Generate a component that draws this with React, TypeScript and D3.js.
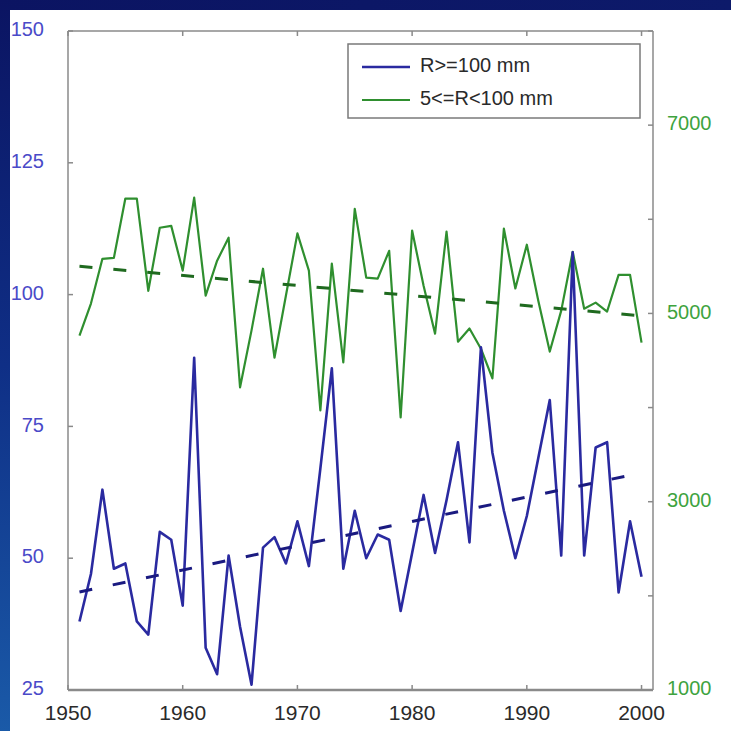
import React from "react";
import * as d3 from "d3";

const years = [
  1951, 1952, 1953, 1954, 1955, 1956, 1957, 1958, 1959, 1960,
  1961, 1962, 1963, 1964, 1965, 1966, 1967, 1968, 1969, 1970,
  1971, 1972, 1973, 1974, 1975, 1976, 1977, 1978, 1979, 1980,
  1981, 1982, 1983, 1984, 1985, 1986, 1987, 1988, 1989, 1990,
  1991, 1992, 1993, 1994, 1995, 1996, 1997, 1998, 1999, 2000,
];

// R >= 100 mm (left axis)
const heavyValues = [
  38, 47, 63, 48, 49, 38, 35.5, 55, 53.5, 41,
  88, 33, 28, 50.5, 37, 26, 52, 54, 49, 57,
  48.5, 67, 86, 48, 59, 50, 54.5, 53.5, 40, 51,
  62, 51, 61, 72, 53, 90, 70, 59, 50, 58,
  69, 80, 50.5, 108, 50.5, 71, 72, 43.5, 57, 46.5,
];

// 5 <= R < 100 mm (right axis)
const moderateValues = [
  4765, 5105, 5580, 5590, 6220, 6220, 5240, 5910, 5930, 5455,
  6230, 5190, 5560, 5805, 4215, 4820, 5475, 4530, 5190, 5850,
  5455, 3970, 5530, 4480, 6110, 5380, 5370, 5665, 3895, 5880,
  5295, 4785, 5870, 4700, 4840, 4625, 4310, 5900, 5265, 5730,
  5135, 4595, 5030, 5655, 5050, 5115, 5020, 5410, 5410, 4690,
];

const trendYears = [1951, 2000];
const heavyTrend = [43.6, 66.2];
const moderateTrend = [5500, 4975];

const xTicks = [1950, 1960, 1970, 1980, 1990, 2000];
const leftTicks = [25, 50, 75, 100, 125, 150];
const rightTicks = [1000, 2000, 3000, 4000, 5000, 6000, 7000, 8000];
const rightTickLabels = [1000, 3000, 5000, 7000];

const legendLabels = ["R>=100 mm", "5<=R<100 mm"];

const W = 731;
const H = 731;
const L = 68;
const R = 653;
const T = 31;
const B = 690;

const BLUE = "#2a2aa0";
const GREEN = "#2f8f2f";
const FONT = "'Liberation Sans', Arial, sans-serif";

export default function App() {
  const x = d3.scaleLinear().domain([1950, 2001]).range([L, R]);
  const yL = d3.scaleLinear().domain([25, 150]).range([B, T]);
  const yR = d3.scaleLinear().domain([1000, 8000]).range([B, T]);

  const heavyLine = d3
    .line<number>()
    .x((_, i) => x(years[i]))
    .y((d) => yL(d));
  const modLine = d3
    .line<number>()
    .x((_, i) => x(years[i]))
    .y((d) => yR(d));
  const heavyTrendLine = d3
    .line<number>()
    .x((_, i) => x(trendYears[i]))
    .y((d) => yL(d));
  const modTrendLine = d3
    .line<number>()
    .x((_, i) => x(trendYears[i]))
    .y((d) => yR(d));

  const axisColor = "#8a8a8a";
  const tk = 5;

  return (
    <div style={{ position: "absolute", left: 0, top: 0, width: W, height: H, background: "#fff" }}>
      <svg width={W} height={H} style={{ display: "block" }}>
        <defs>
          <linearGradient id="leftStrip" x1="0" y1="0" x2="0" y2="1">
            <stop offset="0" stopColor="#0b1462" />
            <stop offset="0.5" stopColor="#0f2f86" />
            <stop offset="1" stopColor="#1a5aa8" />
          </linearGradient>
          <linearGradient id="topStrip" x1="0" y1="0" x2="1" y2="0">
            <stop offset="0" stopColor="#0b1462" />
            <stop offset="1" stopColor="#0d1a6a" />
          </linearGradient>
        </defs>
        <rect x={0} y={0} width={W} height={H} fill="#ffffff" />
        <rect x={0} y={0} width={W} height={10} fill="url(#topStrip)" />
        <rect x={0} y={0} width={10} height={H} fill="url(#leftStrip)" />

        {/* axes box */}
        <line x1={L} y1={T} x2={R} y2={T} stroke={axisColor} strokeWidth={1.5} />
        <line x1={L} y1={B} x2={R} y2={B} stroke={axisColor} strokeWidth={2.5} />
        <line x1={L} y1={T} x2={L} y2={B} stroke={axisColor} strokeWidth={1.5} />
        <line x1={R} y1={T} x2={R} y2={B} stroke={axisColor} strokeWidth={1.5} />

        {/* x ticks */}
        {xTicks.map((t) => (
          <g key={"x" + t}>
            <line x1={x(t)} y1={B} x2={x(t)} y2={B - tk} stroke={axisColor} strokeWidth={1.5} />
            <line x1={x(t)} y1={T} x2={x(t)} y2={T + tk} stroke={axisColor} strokeWidth={1.5} />
            <text
              x={x(t)}
              y={B + 24}
              textAnchor="middle"
              dominantBaseline="middle"
              fontFamily={FONT}
              fontSize={21}
              fill="#2a2a2a"
            >
              {t}
            </text>
          </g>
        ))}

        {/* left ticks */}
        {leftTicks.map((t) => (
          <g key={"l" + t}>
            <line x1={L} y1={yL(t)} x2={L + tk} y2={yL(t)} stroke={axisColor} strokeWidth={1.5} />
            <text
              x={L - 24}
              y={yL(t)}
              textAnchor="end"
              dominantBaseline="middle"
              fontFamily={FONT}
              fontSize={20}
              fill="#4a4ac8"
            >
              {t}
            </text>
          </g>
        ))}

        {/* right ticks */}
        {rightTicks.map((t) => (
          <line key={"r" + t} x1={R} y1={yR(t)} x2={R - tk} y2={yR(t)} stroke={axisColor} strokeWidth={1.5} />
        ))}
        {rightTickLabels.map((t) => (
          <text
            key={"rl" + t}
            x={R + 14}
            y={yR(t)}
            textAnchor="start"
            dominantBaseline="middle"
            fontFamily={FONT}
            fontSize={20}
            fill="#3ea33e"
          >
            {t}
          </text>
        ))}

        {/* series */}
        <path d={modLine(moderateValues) || ""} fill="none" stroke={GREEN} strokeWidth={2.2} strokeLinejoin="round" />
        <path d={heavyLine(heavyValues) || ""} fill="none" stroke={BLUE} strokeWidth={2.6} strokeLinejoin="round" />
        <path
          d={modTrendLine(moderateTrend) || ""}
          fill="none"
          stroke="#1f6a1f"
          strokeWidth={3}
          strokeDasharray="13,21"
        />
        <path
          d={heavyTrendLine(heavyTrend) || ""}
          fill="none"
          stroke="#1a1a80"
          strokeWidth={3}
          strokeDasharray="13,21"
        />

        {/* legend */}
        <g>
          <rect x={348} y={44} width={292} height={74} fill="#ffffff" stroke="#7a7a7a" strokeWidth={1.5} />
          <line x1={362} y1={67} x2={410} y2={67} stroke={BLUE} strokeWidth={2.6} />
          <text x={420} y={67} dominantBaseline="middle" fontFamily={FONT} fontSize={20} fill="#2a2a2a">
            {legendLabels[0]}
          </text>
          <line x1={362} y1={100} x2={410} y2={100} stroke={GREEN} strokeWidth={2.2} />
          <text x={420} y={100} dominantBaseline="middle" fontFamily={FONT} fontSize={20} fill="#2a2a2a">
            {legendLabels[1]}
          </text>
        </g>
      </svg>
    </div>
  );
}
